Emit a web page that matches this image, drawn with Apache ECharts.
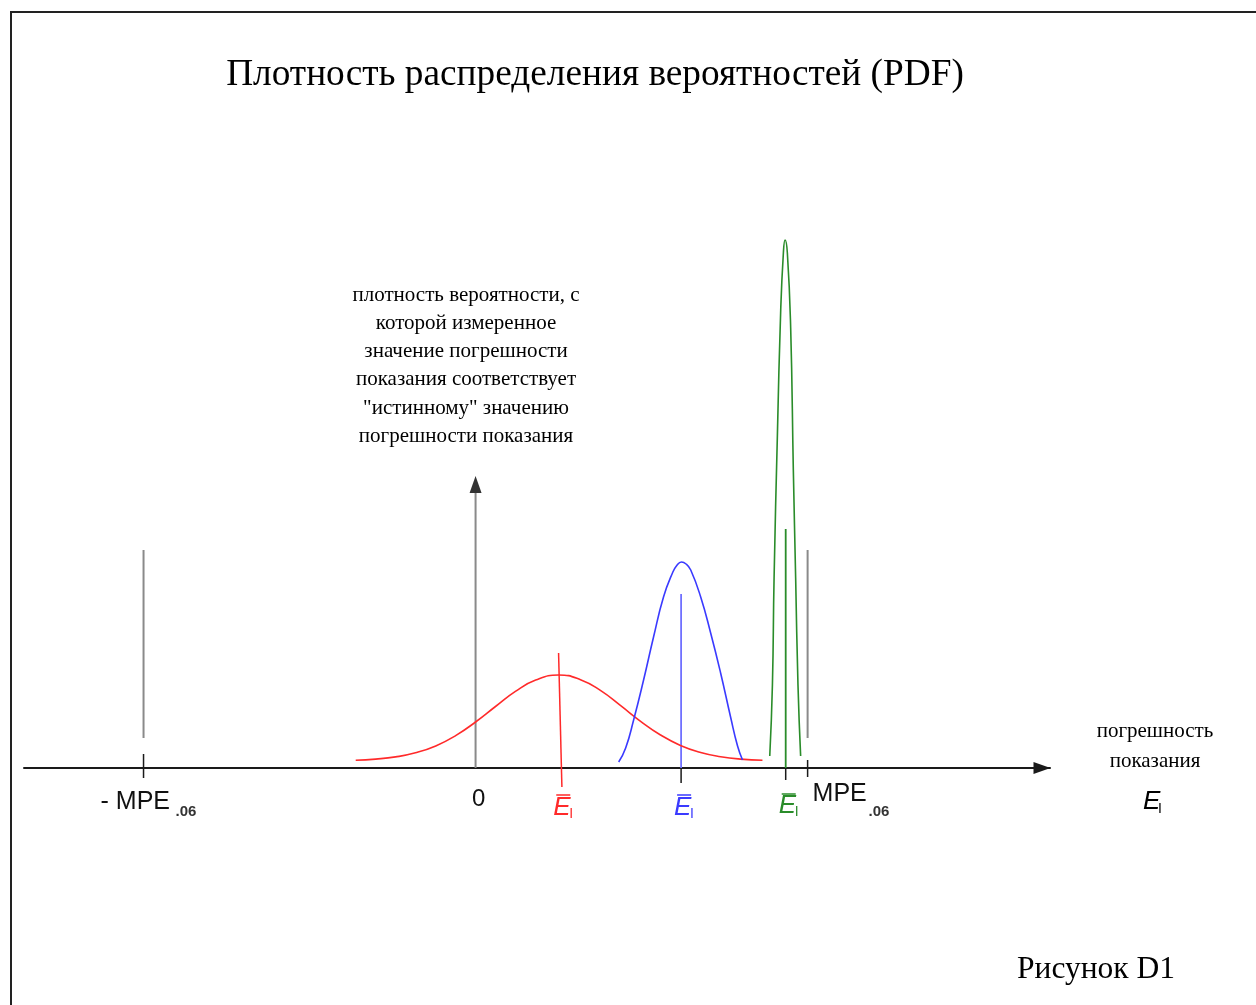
<!DOCTYPE html>
<html>
<head>
<meta charset="utf-8">
<script src="https://cdn.jsdelivr.net/npm/echarts@6/dist/echarts.min.js"></script>
<style>html,body{margin:0;padding:0;background:#fff}#c{width:1256px;height:1005px}</style>
</head>
<body>
<div id="c"></div>
<script>
// x in units of MPE (MPE = 1), y = probability density (arbitrary units)
const redCurve = [[-0.361,0.077],[-0.301,0.089],[-0.241,0.111],[-0.181,0.152],[-0.120,0.221],[-0.060,0.324],[0,0.46],[0.060,0.615],[0.120,0.766],[0.181,0.879],[0.250,0.93],[0.316,0.883],[0.377,0.773],[0.437,0.623],[0.497,0.467],[0.557,0.33],[0.617,0.226],[0.678,0.155],[0.738,0.113],[0.798,0.089],[0.864,0.078]];
const blueCurve = [[0.431,0.06],[0.452,0.2],[0.476,0.48],[0.506,0.88],[0.536,1.31],[0.566,1.71],[0.593,1.95],[0.607,2.03],[0.620,2.06],[0.634,2.04],[0.648,1.98],[0.678,1.71],[0.708,1.35],[0.738,0.95],[0.768,0.51],[0.789,0.22],[0.804,0.08]];
const greenCurve = [[0.886,0.12],[0.894,0.83],[0.899,1.9],[0.909,3.33],[0.919,4.58],[0.927,5.15],[0.932,5.28],[0.939,5.15],[0.949,4.4],[0.957,2.98],[0.964,1.9],[0.971,0.83],[0.979,0.12]];
const meanX = {red:0.255, blue:0.619, green:0.934};
const meanLineHeights = {red:1.15, blue:1.74, green:2.39};
const mpeX = [-1, 1];
const mpeLineRange = [0.30, 2.18];
const yAxisArrowTop = 2.75;
const tickLabelsText = ['- MPE', '0', 'MPE'];
const titleText = 'Плотность распределения вероятностей (PDF)';
const yLabelLines = ['плотность вероятности, с','которой измеренное','значение погрешности','показания соответствует','"истинному" значению','погрешности показания'];
const xLabelLines = ['погрешность','показания'];
const figureText = 'Рисунок D1';

const RED = '#ff2a2a', BLUE = '#3a3aff', GREEN = '#2a8c2a', GRAY = '#8a8a8a', BLACK = '#1a1a1a';

function seg(data, color, width, z) {
  return {type:'line', data:data, symbol:'none', clip:false, silent:true, z:z||2,
    lineStyle:{color:color, width:width||1.5}, animation:false};
}
function curve(data, color) {
  return {type:'line', data:data, smooth:true, symbol:'none', clip:false, silent:true, z:3,
    lineStyle:{color:color, width:1.6}, animation:false};
}

const series = [
  curve(redCurve, RED),
  curve(blueCurve, BLUE),
  curve(greenCurve, GREEN),
  seg([[meanX.red-0.005, meanLineHeights.red],[meanX.red+0.005, -0.19]], RED, 1.5),
  seg([[meanX.blue, meanLineHeights.blue],[meanX.blue, 0]], '#7070ff', 1.8),
  seg([[meanX.blue, 0],[meanX.blue, -0.15]], BLACK, 1.5),
  seg([[meanX.green, meanLineHeights.green],[meanX.green, 0]], GREEN, 1.8),
  seg([[meanX.green, 0],[meanX.green, -0.12]], BLACK, 1.5),
  seg([[mpeX[0], mpeLineRange[0]],[mpeX[0], mpeLineRange[1]]], GRAY, 2),
  seg([[mpeX[1], mpeLineRange[0]],[mpeX[1], mpeLineRange[1]]], GRAY, 2),
  seg([[mpeX[0], 0.14],[mpeX[0], -0.10]], BLACK, 1.5),
  seg([[mpeX[1], 0.08],[mpeX[1], -0.09]], BLACK, 1.5),
  seg([[0, 0],[0, yAxisArrowTop]], GRAY, 2),
  {type:'scatter', data:[[0, yAxisArrowTop+0.085]], symbol:'triangle', symbolSize:[12,17],
   itemStyle:{color:'#000'}, silent:true, clip:false, animation:false, z:4}
];

const chart = echarts.init(document.getElementById('c'), null, {renderer:'canvas'});
chart.setOption({
  backgroundColor:'#fff',
  animation:false,
  grid:{left:24, right:206, top:168, bottom:137},
  xAxis:{type:'value', min:-1.36, max:1.73,
    axisLine:{show:true, onZero:true, symbol:['none','triangle'], symbolSize:[12,17], symbolOffset:[0,-8],
      lineStyle:{color:BLACK, width:2}},
    axisTick:{show:false}, axisLabel:{show:false}, splitLine:{show:false}},
  yAxis:{type:'value', min:-1, max:6, show:false},
  series:series
});

function px(x, y){ return chart.convertToPixel({gridIndex:0}, [x, y]); }
const SANS = "'Liberation Sans', Arial, sans-serif";
const SERIF = "'Liberation Serif', 'Times New Roman', serif";
function txt(x, y, text, font, opt) {
  opt = opt || {};
  return {type:'text', x:x, y:y, silent:true, z:10, style:{text:text, font:font, fill:opt.fill||'#000',
    textAlign:opt.align||'left', textVerticalAlign:'middle'}};
}
function hline(x1, x2, y, color) {
  return {type:'line', silent:true, z:10, shape:{x1:x1,y1:y,x2:x2,y2:y}, style:{stroke:color, lineWidth:1.5}};
}

const g = [];
// frame
g.push({type:'line', silent:true, shape:{x1:10,y1:12,x2:1256,y2:12}, style:{stroke:'#222', lineWidth:2}});
g.push({type:'line', silent:true, shape:{x1:11,y1:12,x2:11,y2:1005}, style:{stroke:'#222', lineWidth:2}});
// title
g.push(txt(595, 75, titleText, '37.3px ' + SERIF, {align:'center'}));
// y label
yLabelLines.forEach((l,i)=> g.push(txt(466, 295 + i*28.3, l, '21px ' + SERIF, {align:'center'})));
// x label
xLabelLines.forEach((l,i)=> g.push(txt(1155, 731 + i*30, l, '21px ' + SERIF, {align:'center'})));
g.push(txt(1143, 802, 'E', 'italic 26px ' + SANS));
g.push(txt(1158, 809, 'I', '14px ' + SANS));
// tick labels
const pM = px(mpeX[0], 0), p0 = px(0, 0), pP = px(mpeX[1], 0);
g.push(txt(pM[0]-43, 802, tickLabelsText[0], '25px ' + SANS, {fill:'#111'}));
g.push(txt(pM[0]+32, 812, '.06', 'bold 15px ' + SANS, {fill:'#333'}));
g.push(txt(p0[0]+3, 799, tickLabelsText[1], '24px ' + SANS, {align:'center', fill:'#111'}));
g.push(txt(pP[0]+5, 794, tickLabelsText[2], '25px ' + SANS, {fill:'#111'}));
g.push(txt(pP[0]+61, 812, '.06', 'bold 15px ' + SANS, {fill:'#333'}));
// mean labels (E bar, subscript I)
[['red', RED, 808, 795],['blue', BLUE, 808, 795],['green', GREEN, 806, 794]].forEach(([k, c, yy, yo])=>{
  const p = px(meanX[k], 0);
  const x0 = p[0] - 7;
  g.push(txt(x0, yy, 'E', 'italic 26px ' + SANS, {fill:c}));
  g.push(txt(x0+16, yy+6, 'I', '14px ' + SANS, {fill:c}));
  g.push(hline(x0+3, x0+17, yo, c));
});
// figure caption
g.push(txt(1096, 970, figureText, '31.5px ' + SERIF, {align:'center'}));
chart.setOption({graphic:{elements:g}});
</script>
</body>
</html>
